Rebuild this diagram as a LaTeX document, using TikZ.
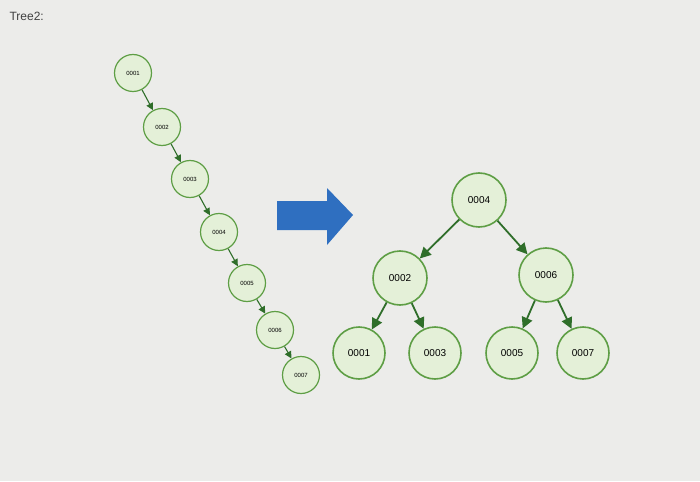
\documentclass[tikz,border=0pt]{standalone}
\usepackage{fontspec}
\setmainfont{Liberation Sans}
\usetikzlibrary{arrows.meta}
\definecolor{bg}{HTML}{ECECEA}
\definecolor{nfill}{HTML}{E4F0D8}
\definecolor{nborder}{HTML}{5E9E45}
\definecolor{edge}{HTML}{2F6E2A}
\definecolor{barrow}{HTML}{2F6FC0}
\tikzset{
 small/.style={circle,draw=nborder,fill=nfill,line width=1.2pt,minimum size=37pt,inner sep=0pt,font=\fontsize{6}{7}\selectfont},
 big/.style={circle,draw=nborder,fill=nfill,line width=1.6pt,minimum size=54pt,inner sep=0pt,font=\fontsize{10}{12}\selectfont},
 conn/.style={draw=edge,line width=1.1pt,-{Triangle[length=7pt,width=7pt]}},
 bconn/.style={draw=edge,line width=1.8pt,-{Triangle[length=11pt,width=11pt]}}
}
\begin{document}
\begin{tikzpicture}[x=1pt,y=-1pt]
\fill[bg] (0,0) rectangle (700,481);
\node[anchor=west,font=\fontsize{12}{14}\selectfont,text=black!75] (title) at (6,16) {Tree2:};
\node[small] (a1) at (133,73) {0001};
\node[small] (a2) at (162,127) {0002};
\node[small] (a3) at (190,179) {0003};
\node[small] (a4) at (219,232) {0004};
\node[small] (a5) at (247,283) {0005};
\node[small] (a6) at (275,330) {0006};
\node[small] (a7) at (301,375) {0007};
\foreach \u/\v in {a1/a2,a2/a3,a3/a4,a4/a5,a5/a6,a6/a7} \draw[conn] (\u) -- (\v);
\fill[barrow] (277,201) -- (327,201) -- (327,188) -- (353,215) -- (327,245) -- (327,230) -- (277,230) -- cycle;
\node[big] (b4) at (479,200) {0004};
\node[big] (b2) at (400,278) {0002};
\node[big] (b6) at (546,275) {0006};
\node[big,minimum size=52pt] (b1) at (359,353) {0001};
\node[big,minimum size=52pt] (b3) at (435,353) {0003};
\node[big,minimum size=52pt] (b5) at (512,353) {0005};
\node[big,minimum size=52pt] (b7) at (583,353) {0007};
\foreach \u/\v in {b4/b2,b4/b6,b2/b1,b2/b3,b6/b5,b6/b7} \draw[bconn] (\u) -- (\v);
\end{tikzpicture}
\end{document}
